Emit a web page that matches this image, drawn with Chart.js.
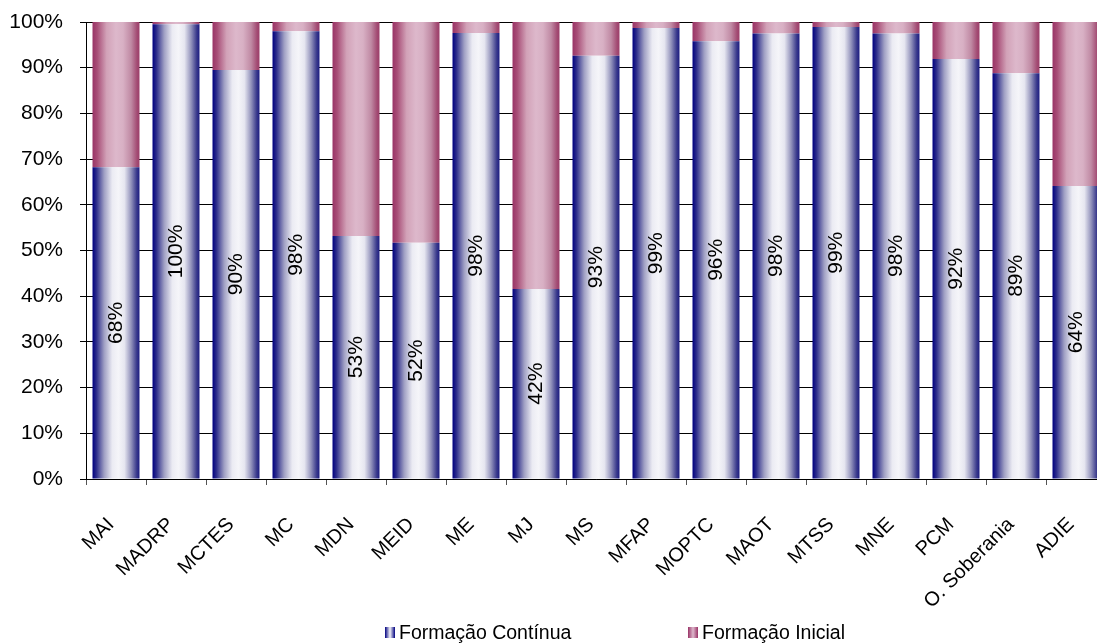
<!DOCTYPE html>
<html>
<head>
<meta charset="utf-8">
<script src="https://cdn.jsdelivr.net/npm/chart.js@4.4.0/dist/chart.umd.min.js"></script>
<style>
  html, body { margin: 0; padding: 0; background: #fff; overflow: hidden; width: 1097px; height: 644px; }
  #wrap { position: absolute; left: 0; top: 0; width: 1110px; height: 644px; }
  #legend { position: absolute; top: 621px; left: 0; width: 1097px; height: 22px; font-family: "Liberation Sans", Arial, sans-serif; font-size: 19.5px; color: #000; }
  .item { position: absolute; top: 0; display: flex; align-items: center; }
  .sw { width: 10px; height: 11px; margin-right: 4px; }
</style>
</head>
<body>
<div id="wrap"><canvas id="c" width="1110" height="644"></canvas></div>
<div id="legend">
  <div class="item" style="left:385px"><div class="sw" style="background:linear-gradient(90deg,#000080,#f4f4f8 50%,#000080)"></div><span>Formação Contínua</span></div>
  <div class="item" style="left:688px"><div class="sw" style="background:linear-gradient(90deg,#993366,#ddb8cc 50%,#993366)"></div><span>Formação Inicial</span></div>
</div>
<script>
const categories = ["MAI","MADRP","MCTES","MC","MDN","MEID","ME","MJ","MS","MFAP","MOPTC","MAOT","MTSS","MNE","PCM","O. Soberania","ADIE"];
const formacaoContinua = [68.2, 99.5, 89.5, 98.0, 53.2, 51.7, 97.6, 41.6, 92.6, 98.7, 95.8, 97.5, 98.9, 97.5, 91.9, 88.8, 64.1];
const formacaoInicial = formacaoContinua.map(v => +(100 - v).toFixed(1));
const yTicks = [0,10,20,30,40,50,60,70,80,90,100];
const seriesNames = ["Formação Contínua", "Formação Inicial"];

const FONT = '"Liberation Sans", Arial, sans-serif';
const BAR_PCT = 0.783;

function barGradient(ctx, stops) {
  const chart = ctx.chart;
  const area = chart.chartArea;
  if (!area || ctx.dataIndex === undefined) return stops[0][1];
  const xs = chart.scales.x;
  const cx = xs.getPixelForValue(ctx.dataIndex);
  const catW = (area.right - area.left) / categories.length;
  const bw = catW * BAR_PCT;
  const g = chart.ctx.createLinearGradient(cx - bw / 2, 0, cx + bw / 2, 0);
  stops.forEach(s => g.addColorStop(s[0], s[1]));
  return g;
}
const blueStops = [[0,'#000080'],[0.08,'#2a2a8a'],[0.25,'#a0a0c4'],[0.42,'#ebebf3'],[0.55,'#f5f5f9'],[0.68,'#e6e6f0'],[0.82,'#9494bc'],[0.94,'#3a3a8c'],[1,'#1c1c82']];
const pinkStops = [[0,'#993366'],[0.1,'#a84e77'],[0.3,'#d2a2b8'],[0.5,'#ddb8cb'],[0.65,'#d8b0c4'],[0.82,'#c08aa4'],[0.95,'#a24a72'],[1,'#9c3e6a']];

const valueLabels = {
  id: 'valueLabels',
  afterDatasetsDraw(chart) {
    const meta = chart.getDatasetMeta(0);
    const c = chart.ctx;
    c.save();
    c.font = '21px ' + FONT;
    c.fillStyle = '#000';
    c.textAlign = 'center';
    c.textBaseline = 'middle';
    meta.data.forEach((el, i) => {
      const y = (el.y + el.base) / 2;
      c.save();
      c.translate(el.x, y);
      c.rotate(-Math.PI / 2);
      c.fillText(Math.round(formacaoContinua[i]) + '%', 0, 0);
      c.restore();
    });
    c.restore();
  }
};

new Chart(document.getElementById('c'), {
  type: 'bar',
  data: {
    labels: categories,
    datasets: [
      { label: seriesNames[0], data: formacaoContinua, backgroundColor: ctx => barGradient(ctx, blueStops), borderWidth: 0, categoryPercentage: 1, barPercentage: BAR_PCT },
      { label: seriesNames[1], data: formacaoInicial, backgroundColor: ctx => barGradient(ctx, pinkStops), borderWidth: 0, categoryPercentage: 1, barPercentage: BAR_PCT }
    ]
  },
  options: {
    responsive: false,
    animation: false,
    layout: { padding: { top: 22, right: 4, left: 0, bottom: 0 } },
    plugins: { legend: { display: false }, tooltip: { enabled: false } },
    scales: {
      x: {
        stacked: true,
        grid: { offset: true, drawOnChartArea: false, drawTicks: true, tickLength: 6, color: '#555' },
        border: { display: true, color: '#000', width: 1 },
        ticks: { font: { family: FONT, size: 20 }, color: '#000', minRotation: 45, maxRotation: 45, padding: 28, labelOffset: -5, autoSkip: false },
        afterFit(scale) { scale.height = 644 - 479; scale.paddingLeft = 0; scale.paddingRight = 0; }
      },
      y: {
        stacked: true,
        min: 0, max: 100,
        afterBuildTicks(scale) { scale.ticks = yTicks.map(v => ({ value: v })); },
        grid: { color: '#000', lineWidth: 1, borderDash: [2, 2], tickLength: 6, tickColor: '#000', tickBorderDash: [] },
        border: { display: true, color: '#000', width: 1 },
        ticks: { font: { family: FONT, size: 21 }, color: '#000', padding: 17, callback: v => v + '%' },
        afterFit(scale) { scale.width = 86; scale.paddingTop = 0; scale.paddingBottom = 0; }
      }
    }
  },
  plugins: [valueLabels]
});
</script>
</body>
</html>
